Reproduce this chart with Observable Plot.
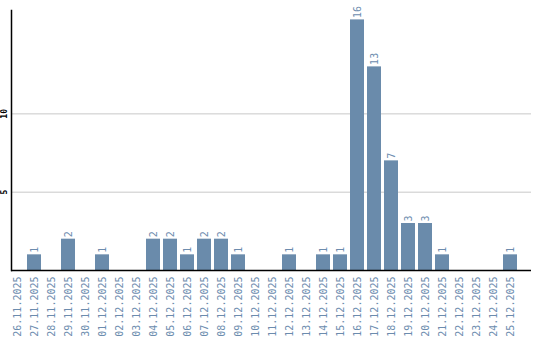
<!DOCTYPE html>
<html><head><meta charset="utf-8">
<script src="https://cdn.jsdelivr.net/npm/d3@7"></script>
<script src="https://cdn.jsdelivr.net/npm/@observablehq/plot@0.6"></script>
<style>body{margin:0;background:#fff}</style>
</head><body><div id="c"></div>
<script>
const dates = ["26.11.2025","27.11.2025","28.11.2025","29.11.2025","30.11.2025","01.12.2025","02.12.2025","03.12.2025","04.12.2025","05.12.2025","06.12.2025","07.12.2025","08.12.2025","09.12.2025","10.12.2025","11.12.2025","12.12.2025","13.12.2025","14.12.2025","15.12.2025","16.12.2025","17.12.2025","18.12.2025","19.12.2025","20.12.2025","21.12.2025","22.12.2025","23.12.2025","24.12.2025","25.12.2025"];
const counts = [0,1,0,2,0,1,0,0,2,2,1,2,2,1,0,0,1,0,1,1,16,13,7,3,3,1,0,0,0,1];
const yTicks = [5,10];
const data = dates.map((d,i)=>({date:d, count:counts[i]}));
const nonzero = data.filter(d=>d.count>0);
const barColor = "#6a8bab";
const labelColor = "#6c8cae";
const font = "DejaVu Sans Mono";
const chart = Plot.plot({
  width: 540, height: 340,
  marginLeft: 11, marginRight: 9, marginTop: 10, marginBottom: 70,
  style: {fontFamily: font, background: "#fff"},
  x: {domain: dates, range: [8.5, 518.5], paddingInner: 0.18, paddingOuter: 0.09, label: null},
  y: {domain: [0, 16.6], label: null, axis: null},
  marks: [
    Plot.ruleY(yTicks, {stroke: "#c8c8c8", strokeWidth: 1}),
    Plot.barY(nonzero, {x: "date", y: "count", fill: barColor}),
    Plot.text(nonzero, {x: "date", y: "count", text: d => String(d.count), rotate: -90, textAnchor: "start", lineAnchor: "middle", dy: -2, fill: labelColor, fontSize: 10, fontFamily: font}),
    Plot.ruleY([0], {stroke: "#000", strokeWidth: 1.5}),
    Plot.frame({anchor: "left", stroke: "#000", strokeWidth: 1.5}),
    Plot.axisX({tickSize: 0, tickRotate: -90, tickPadding: 6, fontSize: 10, fill: labelColor, fontFamily: font}),
    Plot.text(yTicks, {y: d => d, frameAnchor: "left", dx: -7, text: d => String(d), rotate: -90, textAnchor: "middle", lineAnchor: "middle", fontSize: 8, fontWeight: "bold", fill: "#000", fontFamily: font})
  ]
});
document.getElementById("c").appendChild(chart);
</script></body></html>
